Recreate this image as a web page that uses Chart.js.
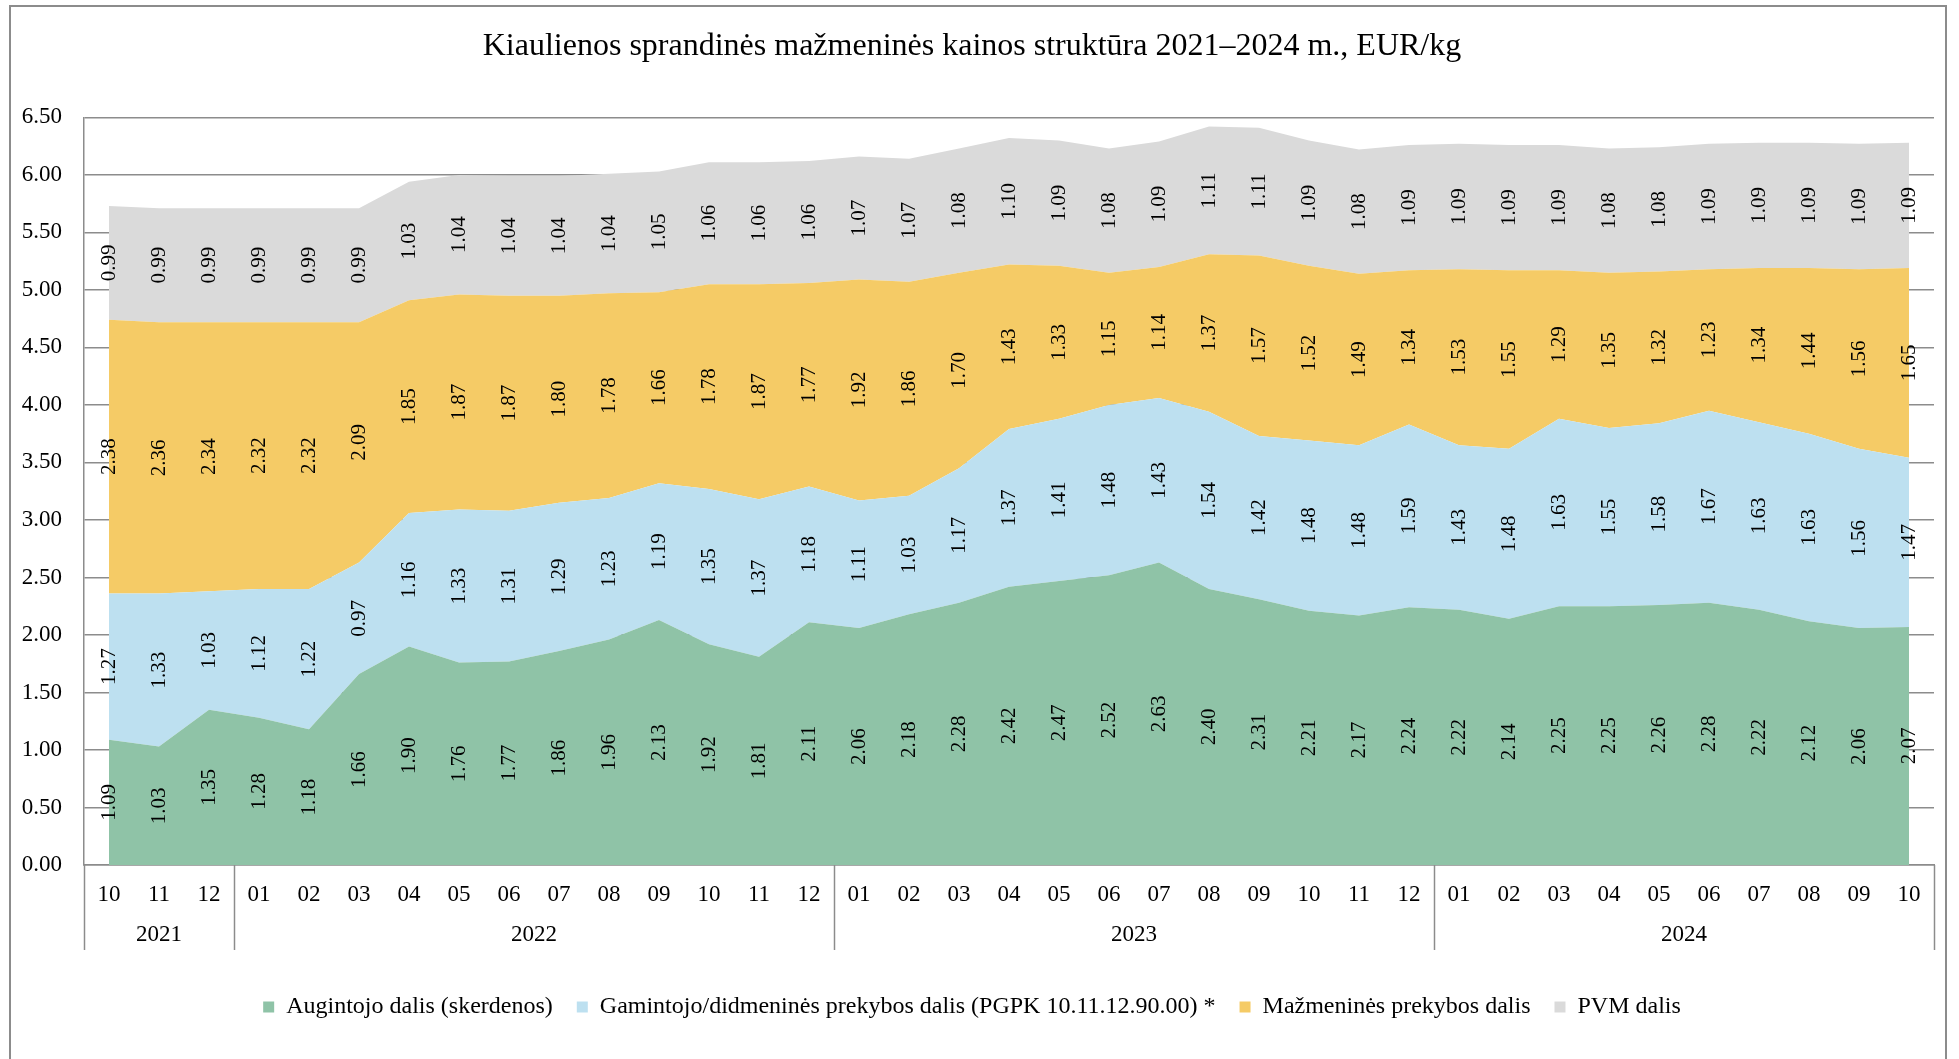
<!DOCTYPE html>
<html>
<head>
<meta charset="utf-8">
<script src="https://cdn.jsdelivr.net/npm/chart.js@4.4.1/dist/chart.umd.min.js"></script>
<style>
	html, body { margin: 0; padding: 0; background: #fff; }
	#wrap { width: 1959px; height: 1059px; }
</style>
</head>
<body>
<div id="wrap"><canvas id="graficaKainos"></canvas></div>
<script>
// menesiai ir metu grupes
const menesiai = ['10', '11', '12',
	'01', '02', '03', '04', '05', '06', '07', '08', '09', '10', '11', '12',
	'01', '02', '03', '04', '05', '06', '07', '08', '09', '10', '11', '12',
	'01', '02', '03', '04', '05', '06', '07', '08', '09', '10'];
const metai = ['2021', '2022', '2023', '2024'];
const metuIlgis = [3, 12, 12, 10];

const augintojo = [1.09, 1.03, 1.35, 1.28, 1.18, 1.66, 1.90, 1.76, 1.77, 1.86, 1.96, 2.13, 1.92, 1.81, 2.11,
	2.06, 2.18, 2.28, 2.42, 2.47, 2.52, 2.63, 2.40, 2.31, 2.21, 2.17, 2.24,
	2.22, 2.14, 2.25, 2.25, 2.26, 2.28, 2.22, 2.12, 2.06, 2.07];
const gamintojo = [1.27, 1.33, 1.03, 1.12, 1.22, 0.97, 1.16, 1.33, 1.31, 1.29, 1.23, 1.19, 1.35, 1.37, 1.18,
	1.11, 1.03, 1.17, 1.37, 1.41, 1.48, 1.43, 1.54, 1.42, 1.48, 1.48, 1.59,
	1.43, 1.48, 1.63, 1.55, 1.58, 1.67, 1.63, 1.63, 1.56, 1.47];
const mazmenines = [2.38, 2.36, 2.34, 2.32, 2.32, 2.09, 1.85, 1.87, 1.87, 1.80, 1.78, 1.66, 1.78, 1.87, 1.77,
	1.92, 1.86, 1.70, 1.43, 1.33, 1.15, 1.14, 1.37, 1.57, 1.52, 1.49, 1.34,
	1.53, 1.55, 1.29, 1.35, 1.32, 1.23, 1.34, 1.44, 1.56, 1.65];
const pvm = [0.99, 0.99, 0.99, 0.99, 0.99, 0.99, 1.03, 1.04, 1.04, 1.04, 1.04, 1.05, 1.06, 1.06, 1.06,
	1.07, 1.07, 1.08, 1.10, 1.09, 1.08, 1.09, 1.11, 1.11, 1.09, 1.08, 1.09,
	1.09, 1.09, 1.09, 1.08, 1.08, 1.09, 1.09, 1.09, 1.09, 1.09];

const serif = "'Liberation Serif', 'Times New Roman', serif";
const pilka = '#8c8c8c';

Chart.defaults.font.family = serif;
Chart.defaults.color = '#000';

// remelis ir baltas fonas
const remelis = {
	id: 'remelis',
	beforeDraw(chart) {
		const ctx = chart.ctx;
		ctx.save();
		ctx.fillStyle = '#fff';
		ctx.fillRect(0, 0, chart.width, chart.height);
		ctx.strokeStyle = pilka;
		ctx.lineWidth = 2;
		ctx.beginPath();
		ctx.moveTo(10, chart.height + 5);
		ctx.lineTo(10, 6);
		ctx.lineTo(1946, 6);
		ctx.lineTo(1946, chart.height + 5);
		ctx.stroke();
		ctx.restore();
	}
};

// reiksmes kiekvienos juostos viduryje
const etiketes = {
	id: 'etiketes',
	afterDatasetsDraw(chart) {
		const ctx = chart.ctx;
		const y = chart.scales.y;
		ctx.save();
		ctx.font = '21px ' + serif;
		ctx.fillStyle = '#000';
		ctx.textAlign = 'center';
		ctx.textBaseline = 'middle';
		chart.data.datasets.forEach((ds, i) => {
			const meta = chart.getDatasetMeta(i);
			meta.data.forEach((pt, j) => {
				let apacia = 0;
				for (let k = 0; k < i; k++) apacia += chart.data.datasets[k].data[j];
				const v = ds.data[j];
				const yc = y.getPixelForValue(apacia + v / 2);
				ctx.save();
				ctx.translate(pt.x, yc);
				ctx.rotate(-Math.PI / 2);
				ctx.fillText(v.toFixed(2), 0, 0);
				ctx.restore();
			});
		});
		ctx.restore();
	}
};

// metu grupes po menesiais
const grupes = {
	id: 'grupes',
	afterDraw(chart) {
		const ctx = chart.ctx;
		const area = chart.chartArea;
		const x = chart.scales.x;
		const plotis = x.getPixelForValue(1) - x.getPixelForValue(0);
		const ribos = [area.left];
		let idx = 0;
		metuIlgis.forEach(n => {
			idx += n;
			ribos.push(x.getPixelForValue(idx - 1) + plotis / 2);
		});
		ctx.save();
		ctx.strokeStyle = pilka;
		ctx.lineWidth = 1.5;
		ribos.forEach(rx => {
			ctx.beginPath();
			ctx.moveTo(Math.round(rx) + 0.5, area.bottom);
			ctx.lineTo(Math.round(rx) + 0.5, area.bottom + 85);
			ctx.stroke();
		});
		ctx.font = '23px ' + serif;
		ctx.fillStyle = '#000';
		ctx.textAlign = 'center';
		ctx.textBaseline = 'middle';
		metai.forEach((m, i) => {
			ctx.fillText(m, (ribos[i] + ribos[i + 1]) / 2, area.bottom + 70);
		});
		ctx.restore();
	}
};

new Chart(document.getElementById('graficaKainos'), {
	type: 'line',
	data: {
		labels: menesiai,
		datasets: [
			{ label: 'Augintojo dalis (skerdenos)', data: augintojo, backgroundColor: '#8fc3a7', fill: 'origin' },
			{ label: 'Gamintojo/didmeninės prekybos dalis (PGPK 10.11.12.90.00) *', data: gamintojo, backgroundColor: '#bde0f0', fill: '-1' },
			{ label: 'Mažmeninės prekybos dalis', data: mazmenines, backgroundColor: '#f5cb66', fill: '-1' },
			{ label: 'PVM dalis', data: pvm, backgroundColor: '#dadada', fill: '-1' }
		].map(d => Object.assign(d, { borderWidth: 0, borderColor: d.backgroundColor, pointRadius: 0, tension: 0 }))
	},
	options: {
		responsive: true,
		maintainAspectRatio: false,
		animation: false,
		layout: { padding: { left: 10, right: 25, top: 0, bottom: 30 } },
		plugins: {
			title: {
				display: true,
				text: 'Kiaulienos sprandinės mažmeninės kainos struktūra 2021–2024 m., EUR/kg',
				font: { size: 32, weight: 'normal', family: serif },
				color: '#000',
				padding: { top: 27, bottom: 52 }
			},
			legend: {
				position: 'bottom',
				labels: {
					boxWidth: 11,
					boxHeight: 11,
					padding: 24,
					font: { size: 24, family: serif },
					color: '#000'
				}
			},
			tooltip: { enabled: false }
		},
		scales: {
			x: {
				offset: true,
				grid: { display: false, drawTicks: false },
				border: { color: pilka, width: 1.5 },
				ticks: { padding: 16, font: { size: 23 }, maxRotation: 0, autoSkip: false },
				afterFit: s => { s.height = 106; }
			},
			y: {
				stacked: true,
				min: 0,
				max: 6.5,
				grid: { color: pilka, lineWidth: 1.5, drawTicks: false },
				border: { color: pilka, width: 1.5 },
				ticks: { stepSize: 0.5, padding: 22, font: { size: 23 }, callback: v => v.toFixed(2) },
				afterFit: s => { s.width = 74; }
			}
		}
	},
	plugins: [remelis, etiketes, grupes]
});
</script>
</body>
</html>
